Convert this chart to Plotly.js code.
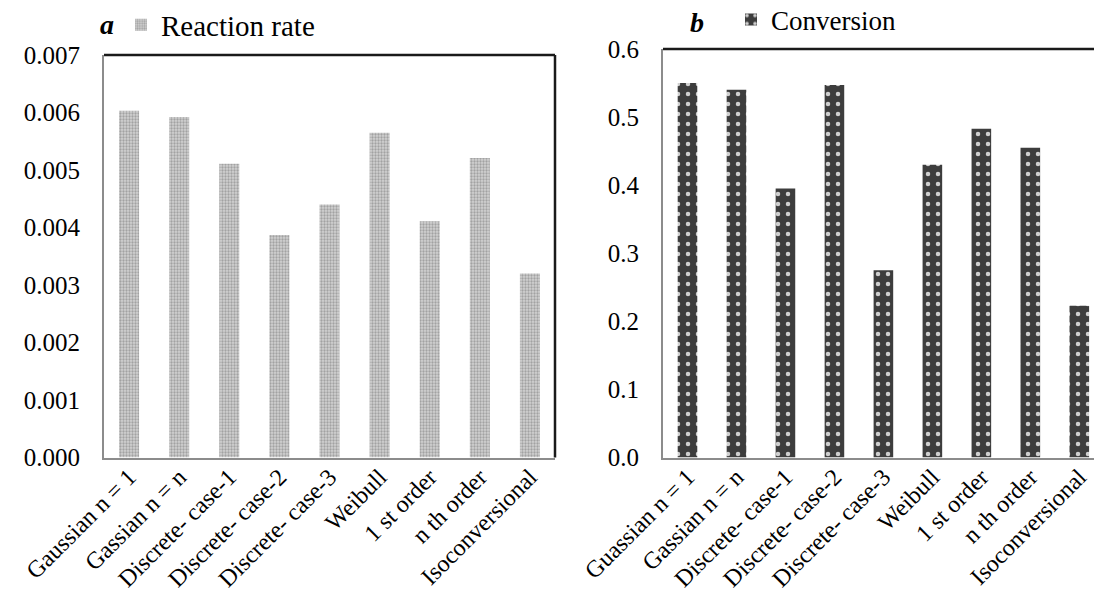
<!DOCTYPE html>
<html>
<head>
<meta charset="utf-8">
<script src="https://cdn.plot.ly/plotly-3.0.1.min.js"></script>
<style>
  html, body { margin: 0; padding: 0; background: #ffffff; }
  #chart { width: 1094px; height: 596px; }
</style>
</head>
<body>
<div id="chart"></div>
<script>
// Model names for each panel
const categoriesA = ['Gaussian n = 1', 'Gassian n = n', 'Discrete- case-1', 'Discrete- case-2',
  'Discrete- case-3', 'Weibull', '1 st order', 'n th order', 'Isoconversional'];
const categoriesB = ['Guassian n = 1', 'Gassian n = n', 'Discrete- case-1', 'Discrete- case-2',
  'Discrete- case-3', 'Weibull', '1 st order', 'n th order', 'Isoconversional'];

// Panel a: reaction rate per model
const reactionRate = [0.00603, 0.00592, 0.00511, 0.00387, 0.00440, 0.00565, 0.00411, 0.00521, 0.00320];
// Panel b: conversion per model
const conversion = [0.550, 0.540, 0.395, 0.547, 0.275, 0.430, 0.483, 0.455, 0.223];

const ticksA = [0, 0.001, 0.002, 0.003, 0.004, 0.005, 0.006, 0.007];
const tickTextA = ['0.000', '0.001', '0.002', '0.003', '0.004', '0.005', '0.006', '0.007'];
const ticksB = [0, 0.1, 0.2, 0.3, 0.4, 0.5, 0.6];
const tickTextB = ['0.0', '0.1', '0.2', '0.3', '0.4', '0.5', '0.6'];

const serif = 'Liberation Serif, Times New Roman, serif';
const yTickFont = { family: serif, size: 25, color: '#000000' };
const xTickFont = { family: serif, size: 24, color: '#000000' };

const traces = [
  {
    type: 'bar', name: 'Reaction rate', x: categoriesA, y: reactionRate,
    xaxis: 'x', yaxis: 'y', legend: 'legend',
    marker: {
      color: '#c6c6c6',
      line: { width: 0 },
      pattern: { shape: '.', bgcolor: '#d2d2d2', fgcolor: '#a2a2a2', size: 3, solidity: 0.45, fillmode: 'replace' }
    },
    hoverinfo: 'x+y'
  },
  {
    type: 'bar', name: 'Conversion', x: categoriesB, y: conversion,
    xaxis: 'x2', yaxis: 'y2', legend: 'legend2',
    marker: {
      color: '#3d3d3d',
      line: { width: 0 },
      pattern: { shape: '.', bgcolor: '#3d3d3d', fgcolor: '#cfcfcf', size: 10, solidity: 0.16, fillmode: 'replace' }
    },
    hoverinfo: 'x+y'
  }
];

const W = 1094, H = 596;
const axisLine = { showline: true, linecolor: '#8c8c8c', linewidth: 2 };

const layout = {
  width: W, height: H,
  margin: { l: 0, r: 0, t: 0, b: 0, autoexpand: false },
  paper_bgcolor: '#ffffff', plot_bgcolor: '#ffffff',
  bargap: 0.6,
  font: { family: serif, color: '#000000' },
  xaxis: Object.assign({
    domain: [104 / W, 555 / W], anchor: 'y',
    type: 'category', range: [-0.5, 8.5],
    tickangle: -45, ticks: '', tickfont: xTickFont, ticklabelstandoff: -6,
    showgrid: false, zeroline: false, automargin: false
  }, axisLine),
  yaxis: Object.assign({
    domain: [(H - 457.5) / H, (H - 55) / H], anchor: 'x',
    range: [0, 0.007], tickvals: ticksA, ticktext: tickTextA,
    ticks: '', tickfont: yTickFont, ticklabelstandoff: 17, showgrid: false, zeroline: false,
    automargin: false
  }, axisLine),
  xaxis2: Object.assign({
    domain: [663 / W, 1], anchor: 'y2',
    type: 'category', range: [-0.5, 8.3],
    tickangle: -45, ticks: '', tickfont: xTickFont, ticklabelstandoff: -6,
    showgrid: false, zeroline: false, automargin: false
  }, axisLine),
  yaxis2: Object.assign({
    domain: [(H - 457.5) / H, (H - 49) / H], anchor: 'x2',
    range: [0, 0.6], tickvals: ticksB, ticktext: tickTextB,
    ticks: '', tickfont: yTickFont, ticklabelstandoff: 17, showgrid: false, zeroline: false,
    automargin: false
  }, axisLine),
  legend: {
    x: 121 / W, y: 1 - 25 / H, xanchor: 'left', yanchor: 'middle',
    orientation: 'h', bgcolor: 'rgba(0,0,0,0)',
    font: { family: serif, size: 29, color: '#000000' }, itemwidth: 30
  },
  legend2: {
    x: 731 / W, y: 1 - 20 / H, xanchor: 'left', yanchor: 'middle',
    orientation: 'h', bgcolor: 'rgba(0,0,0,0)',
    font: { family: serif, size: 27, color: '#000000' }, itemwidth: 30
  },
  showlegend: true,
  annotations: [
    { text: '<b><i>a</i></b>', xref: 'paper', yref: 'paper', x: 107 / W, y: 1 - 25 / H,
      xanchor: 'center', yanchor: 'middle', showarrow: false,
      font: { family: serif, size: 28, color: '#000000' } },
    { text: '<b><i>b</i></b>', xref: 'paper', yref: 'paper', x: 697 / W, y: 1 - 22 / H,
      xanchor: 'center', yanchor: 'middle', showarrow: false,
      font: { family: serif, size: 28, color: '#000000' } }
  ],
  shapes: [
    // frame of panel a: dark top and right edges
    { type: 'line', xref: 'x domain', yref: 'y domain', x0: 0, x1: 1, y0: 1, y1: 1,
      line: { color: '#1a1a1a', width: 2.5 } },
    { type: 'line', xref: 'x domain', yref: 'y domain', x0: 1, x1: 1, y0: 0, y1: 1,
      line: { color: '#1a1a1a', width: 2.5 } },
    // top edge of panel b
    { type: 'line', xref: 'x2 domain', yref: 'y2 domain', x0: 0, x1: 1, y0: 1, y1: 1,
      line: { color: '#1a1a1a', width: 2.5 } }
  ]
};

Plotly.newPlot('chart', traces, layout, { displayModeBar: false, staticPlot: true });
</script>
</body>
</html>
